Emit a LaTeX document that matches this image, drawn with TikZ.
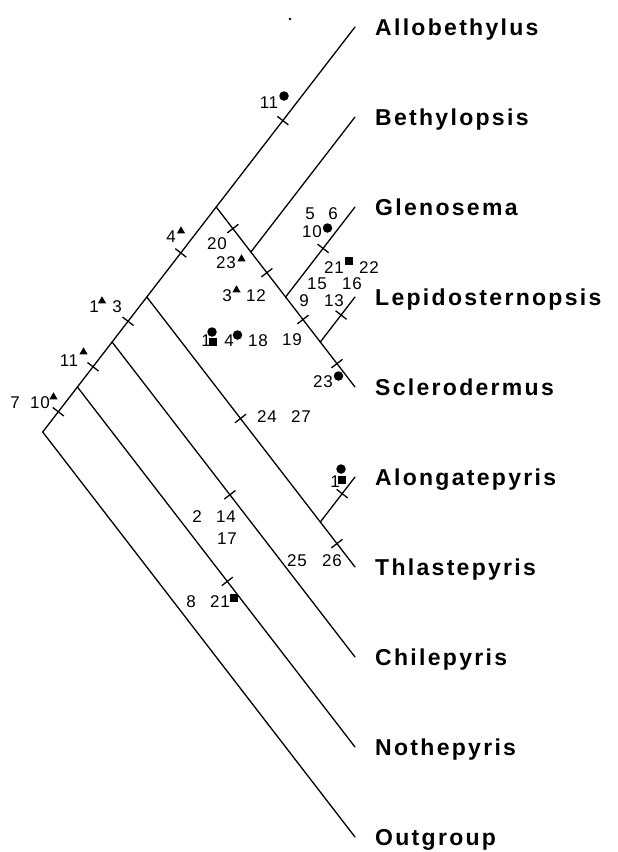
\documentclass[tikz,border=0pt]{standalone}
\usepackage{fontspec}
\setmainfont{Liberation Sans}
\newfontfamily\taxfont{Liberation Sans}[LetterSpace=10]
\newfontfamily\numfont{Liberation Sans}[LetterSpace=4]
\usetikzlibrary{calc,shapes.geometric}
\newcommand\tmark[3]{%
  \coordinate (tmk) at ($(#1)!#3!(#2)$);
  \draw[tickmk] ($(tmk)!7pt!90:(#2)$) -- ($(tmk)!7pt!-90:(#2)$);}
\begin{document}
\begin{tikzpicture}[x=1pt,y=-1pt,
  branch/.style={line width=1.3pt, line cap=round, line join=round},
  tickmk/.style={line width=1.3pt},
  taxon/.style={anchor=base west, inner sep=0pt, font=\taxfont\bfseries\fontsize{23}{23}\selectfont},
  num/.style={inner sep=0pt, anchor=center, font=\numfont\fontsize{17}{17}\selectfont},
  dotm/.style={circle, fill=black, inner sep=0pt, minimum size=9.5pt},
  sqm/.style={rectangle, fill=black, inner sep=0pt, minimum size=8pt},
  trim/.style={regular polygon, regular polygon sides=3, fill=black, inner sep=0pt, minimum size=9.5pt}
]
\useasboundingbox (0,0) rectangle (618,852);
% tree nodes
\coordinate (R)  at (42.7,432);
\coordinate (N1) at (77.4,387);
\coordinate (N2) at (112.1,342);
\coordinate (N3) at (146.8,297);
\coordinate (N4) at (216.2,207);
\coordinate (N5) at (250.9,252);
\coordinate (N6) at (285.6,297);
\coordinate (N7) at (320.3,342);
\coordinate (N8) at (320.3,522);
% tips
\coordinate (T0) at (355,27);
\coordinate (T1) at (355,117);
\coordinate (T2) at (355,207);
\coordinate (T3) at (355,297);
\coordinate (T4) at (355,387);
\coordinate (T5) at (355,477);
\coordinate (T6) at (355,567);
\coordinate (T7) at (355,657);
\coordinate (T8) at (355,747);
\coordinate (T9) at (355,837);
% branches
\draw[branch] (T9) -- (R) -- (N1) -- (N2) -- (N3) -- (N4) -- (T0);
\draw[branch] (N4) -- (N5) -- (N6) -- (N7) -- (T4);
\draw[branch] (N5) -- (T1);
\draw[branch] (N6) -- (T2);
\draw[branch] (N7) -- (T3);
\draw[branch] (N3) -- (N8) -- (T6);
\draw[branch] (N8) -- (T5);
\draw[branch] (N2) -- (T7);
\draw[branch] (N1) -- (T8);
% ticks
\tmark{N4}{T0}{0.48}
\tmark{R}{N1}{0.45}
\tmark{N1}{N2}{0.45}
\tmark{N2}{N3}{0.46}
\tmark{N3}{N4}{0.49}
\tmark{N4}{N5}{0.48}
\tmark{N5}{N6}{0.46}
\tmark{N6}{T2}{0.54}
\tmark{N6}{N7}{0.5}
\tmark{N7}{T3}{0.6}
\tmark{N7}{T4}{0.48}
\tmark{N3}{N8}{0.54}
\tmark{N8}{T5}{0.63}
\tmark{N8}{T6}{0.48}
\tmark{N2}{T7}{0.485}
\tmark{N1}{T8}{0.54}
% taxa
\node[taxon] (L0) at (375,35.3) {Allobethylus};
\node[taxon] (L1) at (375,125.3) {Bethylopsis};
\node[taxon] (L2) at (375,215.3) {Glenosema};
\node[taxon] (L3) at (375,305.3) {Lepidosternopsis};
\node[taxon] (L4) at (375,395.3) {Sclerodermus};
\node[taxon] (L5) at (375,485.3) {Alongatepyris};
\node[taxon] (L6) at (375,575.3) {Thlastepyris};
\node[taxon] (L7) at (375,665.3) {Chilepyris};
\node[taxon] (L8) at (375,755.3) {Nothepyris};
\node[taxon] (L9) at (375,845.3) {Outgroup};
% character numbers and symbols
\node[num] (c1) at (269,103) {11}; \node[dotm] (s1) at (284,96) {};
\node[num] (c2) at (310,214) {5};
\node[num] (c3) at (333,214) {6};
\node[num] (c4) at (312,232) {10}; \node[dotm] (s4) at (327.5,228) {};
\node[num] (c5) at (217,244) {20};
\node[num] (c6) at (226,263) {23}; \node[trim] (s6) at (241.5,259) {};
\node[num] (c7) at (334,268) {21}; \node[sqm] (s7) at (348.5,261) {};
\node[num] (c8) at (369,268) {22};
\node[num] (c9) at (317,284) {15};
\node[num] (c10) at (352,284) {16};
\node[num] (c11) at (227,296) {3}; \node[trim] (s11) at (236.5,290) {};
\node[num] (c12) at (256,296) {12};
\node[num] (c13) at (304,301) {9};
\node[num] (c14) at (334,301) {13};
\node[num] (c15) at (292,340) {19};
\node[num] (c16) at (206,341) {1}; \node[sqm] (s16a) at (213,342) {}; \node[dotm] (s16b) at (212,332) {};
\node[num] (c17) at (229,341) {4}; \node[dotm] (s17) at (237.5,335) {};
\node[num] (c18) at (258,341) {18};
\node[num] (c19) at (323,382) {23}; \node[dotm] (s19) at (338.5,376) {};
\node[num] (c20) at (171,237) {4}; \node[trim] (s20) at (181,231) {};
\node[num] (c21) at (94,307) {1}; \node[trim] (s21) at (102,301) {};
\node[num] (c22) at (117,307) {3};
\node[num] (c23) at (69,361) {11}; \node[trim] (s23) at (83.5,352) {};
\node[num] (c24) at (15,403) {7};
\node[num] (c25) at (40,403) {10}; \node[trim] (s25) at (53.5,397) {};
\node[num] (c26) at (267,417) {24};
\node[num] (c27) at (301,417) {27};
\node[num] (c28) at (335,482) {1}; \node[sqm] (s28a) at (342,480) {}; \node[dotm] (s28b) at (341,469) {};
\node[num] (c29) at (197,517) {2};
\node[num] (c30) at (226,517) {14};
\node[num] (c31) at (227,539) {17};
\node[num] (c32) at (297,561) {25};
\node[num] (c33) at (332,561) {26};
\node[num] (c34) at (191,602) {8};
\node[num] (c35) at (220,602) {21}; \node[sqm] (s35) at (233.5,598) {};
% stray speck
\fill (290,19) circle (1.3);
\end{tikzpicture}
\end{document}
